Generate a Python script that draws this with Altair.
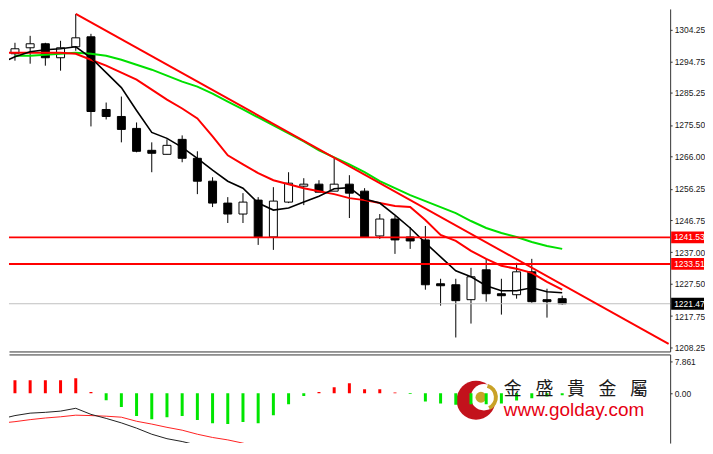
import altair as alt
import pandas as pd

# ---------------- data ----------------
candle_i = list(range(37))
opens = [1297.03, 1298.83, 1300.04, 1295.82, 1299.13, 1302.14, 1280.18, 1278.07, 1274.46, 1267.84,
         1266.63, 1271.15, 1265.43, 1258.51, 1251.89, 1248.58, 1252.79, 1241.66, 1252.19, 1257.00,
         1257.61, 1255.50, 1257.61, 1255.50, 1241.96, 1247.07, 1241.66, 1240.76, 1227.51, 1227.21,
         1222.70, 1231.73, 1224.50, 1224.20, 1231.12, 1222.70, 1223.00]
highs = [1300.34, 1302.44, 1300.34, 1300.94, 1309.06, 1303.05, 1282.28, 1284.09, 1276.26, 1270.25,
         1271.15, 1272.35, 1267.54, 1259.71, 1253.69, 1254.90, 1253.69, 1256.70, 1261.22, 1259.41,
         1258.81, 1265.43, 1260.32, 1256.40, 1248.58, 1247.98, 1244.67, 1244.97, 1229.02, 1229.02,
         1232.33, 1235.04, 1229.02, 1233.83, 1235.04, 1226.01, 1223.90]
lows = [1294.92, 1294.02, 1293.42, 1291.91, 1297.93, 1275.06, 1277.17, 1270.25, 1267.24, 1261.22,
        1266.63, 1264.23, 1254.60, 1250.69, 1245.87, 1245.87, 1239.25, 1237.75, 1251.89, 1251.29,
        1255.20, 1255.50, 1247.38, 1241.66, 1241.06, 1236.54, 1238.05, 1225.71, 1220.90, 1211.27,
        1215.48, 1222.10, 1218.19, 1223.00, 1221.80, 1217.28, 1221.20]
closes = [1298.53, 1300.04, 1295.82, 1298.83, 1301.84, 1279.57, 1278.07, 1274.16, 1267.54, 1266.94,
          1269.34, 1265.43, 1258.51, 1251.89, 1248.58, 1252.19, 1241.66, 1252.49, 1257.91, 1257.61,
          1255.20, 1257.61, 1254.90, 1241.66, 1247.07, 1240.76, 1240.45, 1227.21, 1226.91, 1222.40,
          1229.62, 1224.50, 1223.90, 1231.12, 1222.10, 1222.10, 1221.47]

line_i = list(range(-1, 37))
ma_fast = [1294.02, 1296.12, 1297.63, 1298.23, 1298.53, 1299.13, 1295.82, 1291.31, 1286.80, 1279.87,
           1273.25, 1271.45, 1268.74, 1265.43, 1261.82, 1258.51, 1256.40, 1251.89, 1249.78, 1250.38,
           1252.19, 1253.99, 1256.25, 1256.55, 1253.09, 1251.89, 1248.28, 1244.36, 1239.85, 1235.64,
           1231.42, 1229.62, 1226.91, 1225.41, 1225.41, 1226.31, 1225.11, 1224.80]
ma_mid = [1297.33, 1297.33, 1297.33, 1297.33, 1297.33, 1297.03, 1295.22, 1293.42, 1291.31, 1289.20,
          1286.19, 1283.18, 1280.48, 1277.47, 1272.05, 1266.33, 1263.62, 1260.92, 1258.81, 1257.61,
          1256.40, 1255.50, 1254.60, 1253.39, 1252.79, 1251.89, 1250.99, 1250.69, 1246.77, 1242.26,
          1240.45, 1237.44, 1235.04, 1232.93, 1232.03, 1230.82, 1228.11, 1225.71]
ma_slow = [1296.43, 1296.43, 1296.73, 1297.03, 1297.33, 1297.03, 1296.43, 1295.22, 1293.72, 1292.21,
           1290.41, 1288.60, 1287.10, 1284.99, 1282.58, 1280.18, 1277.77, 1275.36, 1272.95, 1270.55,
           1267.84, 1265.73, 1263.62, 1261.22, 1258.51, 1256.40, 1254.30, 1252.49, 1250.68, 1248.88,
           1246.47, 1244.36, 1242.86, 1241.66, 1240.15, 1238.95, 1238.05]

trend_i = [4, 43]
trend_v = [1309.06, 1209.35]

resistance_levels = [1241.53, 1233.51]
last_price = 1221.47
price_ticks = [1304.25, 1294.75, 1285.25, 1275.50, 1266.00, 1256.25, 1246.75, 1237.00, 1227.50, 1217.75, 1208.25]

hist = [3.2, 3.2, 3.2, 3.2, 3.7, 0.3, -1.7, -3.4, -5.6, -6.4, -5.9, -5.6, -6.6, -7.4, -7.6, -7.1,
        -7.4, -5.4, -2.7, -0.7, 0.3, 1.5, 2.5, 1.0, 1.0, 0.2, -0.2, -2.0, -2.5, -2.8, -2.7, -2.7,
        -2.5, -1.8, -1.2, -0.8, -0.5]
macd_main = [-6.4, -5.5, -4.9, -4.7, -4.4, -3.7, -5.2, -6.2, -7.3, -8.6, -10.1, -11.2, -11.9, -12.8,
             -13.9, -15.1, -16.0, -16.6, -16.6, -16.0, -15.1, -14.1, -13.0, -12.65, -13.1, -13.4,
             -13.5, -13.8, -14.9, -16.0, -17.0, -17.8, -18.4, -18.8, -19.0, -19.2, -19.3, -19.4]
macd_signal = [-7.4, -7.0, -6.5, -6.1, -5.8, -5.4, -5.5, -5.65, -5.9, -6.9, -7.6, -8.4, -9.1, -10.1,
               -10.9, -11.5, -12.3, -13.3, -14.0, -14.5, -14.7, -14.25, -13.8, -13.6, -13.5, -13.5,
               -13.5, -13.5, -13.8, -14.1, -14.5, -15.0, -15.5, -16.0, -16.4, -16.7, -17.0, -17.2]
macd_ticks = [7.861, 0.0]

brand_chars = ["金", "盛", "貴", "金", "屬"]
brand_url = "www.golday.com"

# ---------------- layout ----------------
W = 664
H_MAIN = 344
H_LOW = 89
PX_PER_BAR = 15.5
FONT = "Liberation Sans"
AX = "#333333"
LBL = 8.5

x_scale = alt.Scale(domain=[-1 / PX_PER_BAR, (W - 1) / PX_PER_BAR], nice=False, zero=False)
y_scale = alt.Scale(domain=[1207.05, 1310.57], nice=False, zero=False)
m_scale = alt.Scale(domain=[-12.28, 9.58], nice=False, zero=False)

x_main_axis = alt.Axis(orient="bottom", labels=False, ticks=False, grid=False, domain=True,
                       domainColor="#333333", title=None)
y_main_axis = alt.Axis(orient="right", values=price_ticks, format=".2f", tickSize=2, tickColor=AX,
                       domainColor=AX, labelPadding=2, labelFont=FONT, labelFontSize=LBL,
                       labelColor="#1a1a1a", grid=False, title=None)
x_low_axis = alt.Axis(orient="top", labels=False, ticks=False, grid=False, domain=True,
                      domainColor="#333333", title=None)
m_axis = alt.Axis(orient="right", values=macd_ticks,
                  labelExpr="datum.value == 0 ? '0.00' : '7.861'", tickSize=2, tickColor=AX,
                  domainColor=AX, labelPadding=2, labelFont=FONT, labelFontSize=LBL,
                  labelColor="#1a1a1a", grid=False, title=None)

def xm():
    return alt.X("i:Q", scale=x_scale, axis=x_main_axis)

def ym(f):
    return alt.Y(f, scale=y_scale, axis=y_main_axis)

def xl():
    return alt.X("i:Q", scale=x_scale, axis=x_low_axis)

def yl(f):
    return alt.Y(f, scale=m_scale, axis=m_axis)

candles = pd.DataFrame({"i": candle_i, "open": opens, "high": highs, "low": lows, "close": closes})

wicks = alt.Chart(candles).mark_rule(color="black", strokeWidth=1, clip=True).encode(
    x=xm(), y=ym("low:Q"), y2="high:Q")
bodies = alt.Chart(candles).mark_bar(size=8, stroke="black", strokeWidth=1, clip=True).encode(
    x=xm(), y=ym("open:Q"), y2="close:Q",
    fill=alt.condition("datum.close >= datum.open", alt.value("white"), alt.value("black")),
)

gray_df = pd.DataFrame({"v": [last_price]})
gray_line = alt.Chart(gray_df).mark_rule(color="#c0c0c0", strokeWidth=1).encode(y=ym("v:Q"))

lev_df = pd.DataFrame({"v": resistance_levels})
lev_lines = alt.Chart(lev_df).mark_rule(color="#ff0000", strokeWidth=2).encode(y=ym("v:Q"))

def ma_layer(vals, idxs, color, width):
    df = pd.DataFrame({"i": idxs, "v": vals})
    return alt.Chart(df).mark_line(color=color, strokeWidth=width, clip=True).encode(x=xm(), y=ym("v:Q"))

slow = ma_layer(ma_slow, candle_i, "#00e000", 2)
mid = ma_layer(ma_mid, line_i, "#ff0000", 2)
fast = ma_layer(ma_fast, line_i, "#000000", 1.6)
trend = ma_layer(trend_v, trend_i, "#ff0000", 2)

tag_df = pd.DataFrame({
    "v": [resistance_levels[0], resistance_levels[1], last_price],
    "bg": ["#ff0000", "#ff0000", "#000000"],
})
tag_df["label"] = tag_df["v"].map(lambda z: f"{z:.2f}")
tag_box = alt.Chart(tag_df).transform_calculate(lo="datum.v - 1.8", hi="datum.v + 1.8").mark_rect().encode(
    y=ym("lo:Q"), y2="hi:Q", x=alt.value(W + 1), x2=alt.value(W + 34),
    fill=alt.Fill("bg:N", scale=None),
)
tag_text = alt.Chart(tag_df).mark_text(align="left", baseline="middle", font=FONT, fontSize=LBL,
                                       color="white").encode(
    y=ym("v:Q"), x=alt.value(W + 4), text="label:N")

main = alt.layer(wicks, bodies, gray_line, slow, mid, fast, trend, lev_lines, tag_box, tag_text).properties(
    width=W, height=H_MAIN)

# ---------------- lower panel ----------------
hist_df = pd.DataFrame({"i": candle_i, "h": hist})

one = pd.DataFrame({"k": [0]})
LX, LY = 469, 46
logo_red = alt.Chart(one).mark_circle(size=1520, color="#c3121c", opacity=1).encode(
    x=alt.value(LX), y=alt.value(LY))
logo_white = alt.Chart(one).mark_circle(size=700, color="white", opacity=1).encode(
    x=alt.value(LX + 8), y=alt.value(LY - 3))
logo_ring = alt.Chart(one).mark_arc(radius=14, radius2=10, theta=0.3, theta2=2.7, color="#c9a227").encode(
    x=alt.value(LX + 8), y=alt.value(LY - 3))
logo_ball = alt.Chart(one).mark_circle(size=120, color="#c9a227", opacity=1).encode(
    x=alt.value(LX + 5), y=alt.value(LY - 3))

bars = alt.Chart(hist_df).transform_calculate(zero="0").mark_bar(size=3, clip=True).encode(
    x=xl(), y=yl("h:Q"), y2="zero:Q",
    color=alt.condition("datum.h > 0", alt.value("#ff0000"), alt.value("#00e600")),
)

def macd_layer(vals, color):
    df = pd.DataFrame({"i": line_i, "v": vals})
    return alt.Chart(df).mark_line(color=color, strokeWidth=1, clip=True).encode(x=xl(), y=yl("v:Q"))

sig_line = macd_layer(macd_signal, "#ff2020")
main_line = macd_layer(macd_main, "#202020")

brand_layers = []
for k, ch in enumerate(brand_chars):
    brand_layers.append(
        alt.Chart(one).mark_text(text=ch, font="Noto Sans CJK TC", fontSize=18, color="#1a1a1a",
                                 align="left", baseline="middle").encode(
            x=alt.value(497 + k * 31.7), y=alt.value(36)))
url_text = alt.Chart(one).mark_text(text=brand_url, font=FONT, fontSize=19, color="#e60012",
                                    align="left", baseline="middle").encode(
    x=alt.value(497), y=alt.value(56))

lower = alt.layer(logo_red, logo_white, logo_ring, logo_ball, bars, sig_line, main_line,
                  *brand_layers, url_text).properties(width=W, height=H_LOW)

chart = alt.vconcat(main, lower, spacing=2).properties(padding=0).configure_view(strokeWidth=0)

chart.save("out.html", embed_options={"renderer": "svg", "actions": False})
